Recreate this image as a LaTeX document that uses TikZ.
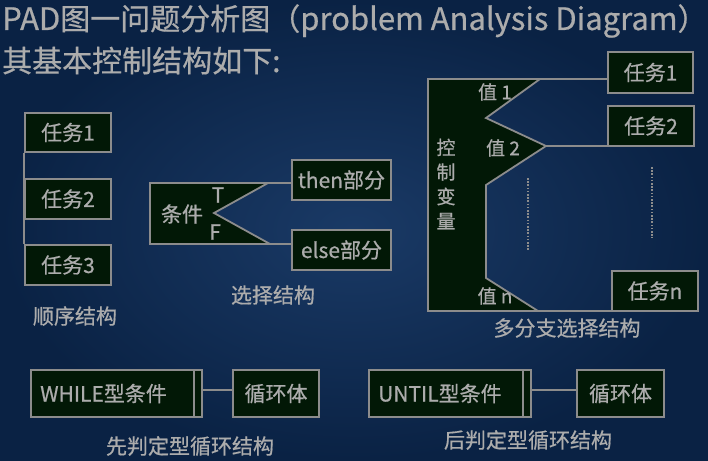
\documentclass[tikz,border=0pt]{standalone}
\usepackage{fontspec}
\setmainfont{Noto Sans CJK SC}[FakeBold=0.6]
\definecolor{bgA}{RGB}{26,58,102}
\definecolor{bgB}{RGB}{10,34,68}
\definecolor{boxfill}{RGB}{2,24,6}
\definecolor{edge}{RGB}{140,140,140}
\definecolor{txt}{RGB}{172,172,172}
\newcommand{\latw}{\fontsize{31}{34}\selectfont}
\newcommand{\cjkw}{\fontsize{30}{34}\selectfont}
\begin{document}
\begin{tikzpicture}[x=1pt,y=-1pt,
  box/.style={draw=edge, fill=boxfill, line width=1.8pt, inner sep=0pt, text=txt, font=\fontsize{21}{24}\selectfont},
  lbl/.style={text=txt, inner sep=0pt, font=\fontsize{21}{24}\selectfont},
  small/.style={text=txt, inner sep=0pt, font=\fontsize{19}{21}\selectfont},
  conn/.style={draw=edge, line width=1.8pt},
  dots/.style={draw=edge, line width=1.6pt, dash pattern=on 1.6pt off 1.6pt}]
\useasboundingbox (0,0) rectangle (708,460);
\shade[inner color=bgA, outer color=bgB] (0,0) rectangle (708,460);
% title
\node[anchor=base west, text=txt, inner sep=0pt] (title1) at (2,30) {{\latw PAD}{\cjkw 图一问题分析图（}{\latw problem Analysis Diagram}{\cjkw ）}};
\node[anchor=base west, text=txt, inner sep=0pt, font=\cjkw] (title2) at (2,72) {其基本控制结构如下:};
% sequence
\node[box, minimum width=86pt, minimum height=39pt] (s1) at (68,132.5) {任务1};
\node[box, minimum width=86pt, minimum height=40pt] (s2) at (68,199) {任务2};
\node[box, minimum width=86pt, minimum height=40pt] (s3) at (68,265) {任务3};
\draw[conn] (s1.south west) -- (s3.north west);
\node[lbl] (seqlab) at (75,316) {顺序结构};
% selection
\coordinate (ct) at (268,183);
\coordinate (cn) at (214,213);
\coordinate (cb) at (270,244);
\draw[conn, fill=boxfill] (150,183) -- (ct) -- (cn) -- (cb) -- (150,244) -- cycle;
\node[lbl] (cond) at (182,214) {条件};
\node[lbl] (tl) at (218,195) {T};
\node[lbl] (fl) at (215,232) {F};
\node[box, minimum width=99pt, minimum height=40pt] (then) at (341.5,180) {then部分};
\node[box, minimum width=99pt, minimum height=40pt] (else) at (341.5,250) {else部分};
\draw[conn] (ct) -- (ct -| then.west);
\draw[conn] (cb) -- (cb -| else.west);
\node[lbl] (sellab) at (273,295) {选择结构};
% multi-branch
\coordinate (v1) at (540,79);
\coordinate (v2) at (546,146);
\coordinate (vn) at (538,311);
\draw[conn, fill=boxfill] (428,79) -- (v1) -- (486,118) -- (v2) -- (486,185) -- (486,278) -- (vn) -- (428,311) -- cycle;
\node[box, minimum width=85pt, minimum height=41pt] (m1) at (650.5,72.5) {任务1};
\node[box, minimum width=86pt, minimum height=40pt] (m2) at (651,126) {任务2};
\node[box, minimum width=86pt, minimum height=40pt] (mn) at (655,291) {任务n};
\draw[conn] (v1) -- (v1 -| m1.west);
\draw[conn] (v2) -- (v2 -| m2.west);
\draw[conn] (vn) -- (vn -| mn.west);
\node[small] (val1) at (495,92) {值 1};
\node[small] (val2) at (503,148) {值 2};
\node[small] (valn) at (495,296) {值 n};
\node[small, align=center, font=\fontsize{19}{24.5}\selectfont] (ctrl) at (446,184) {控\\制\\变\\量};
\draw[dots] (528,178) -- (528,250);
\draw[dots] (652,167) -- (652,238);
\node[lbl] (multlab) at (567,328) {多分支选择结构};
% while loop
\node[box, minimum width=171pt, minimum height=47pt] (w) at (116.5,393.5) {};
\node[lbl, anchor=west] (wt) at (40,393.5) {WHILE型条件};
\draw[conn] ([xshift=-9pt]w.north east) -- ([xshift=-9pt]w.south east);
\node[box, minimum width=86pt, minimum height=47pt] (b1) at (276,393.5) {循环体};
\draw[conn] ([yshift=3.5pt]w.east) -- ([yshift=3.5pt]b1.west);
\node[lbl] (wlab) at (190,446) {先判定型循环结构};
% until loop
\node[box, minimum width=162pt, minimum height=47pt] (u) at (450,393.5) {};
\node[lbl, anchor=west] (ut) at (378,393.5) {UNTIL型条件};
\draw[conn] ([xshift=-9pt]u.north east) -- ([xshift=-9pt]u.south east);
\node[box, minimum width=87pt, minimum height=47pt] (b2) at (620.5,393.5) {循环体};
\draw[conn] ([yshift=3.5pt]u.east) -- ([yshift=3.5pt]b2.west);
\node[lbl] (ulab) at (528,440) {后判定型循环结构};
\end{tikzpicture}
\end{document}
